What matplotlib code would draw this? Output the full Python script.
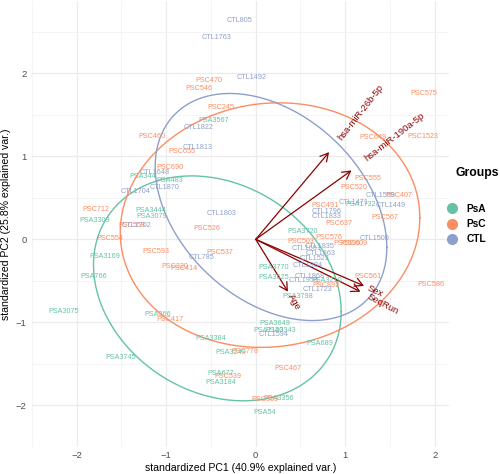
import numpy as np
import matplotlib.pyplot as plt
from matplotlib.lines import Line2D
from matplotlib.textpath import TextPath
from matplotlib.font_manager import FontProperties

plt.rcParams['font.family'] = ['Liberation Sans', 'DejaVu Sans']

#%% Datos: puntuaciones estandarizadas de PC1 y PC2 por grupo
grupos = ['PsA', 'PsC', 'CTL']
colores = ['#66C2A5', '#FC8D62', '#8DA0CB']

psa_nombres = ['PSA3567', 'PSA344', 'PSA483', 'PSA3444', 'PSA3079', 'PSA3303', 'PSA3169',
               'PSA766', 'PSA3075', 'PSA366', 'PSA3384', 'PSA3745', 'PSA3249', 'PSA677',
               'PSA3184', 'PSA3356', 'PSA54', 'PSA3649', 'PSA1120', 'PSA3343', 'PSA689',
               'PSA3798', 'PSA3770', 'PSA3625', 'PSA3720', 'PSA3210', 'PSA1732']
psa_pc1 = [-0.465, -1.265, -0.962, -1.168, -1.168, -1.795, -1.686, -1.805, -2.151, -1.092,
           -0.497, -1.514, -0.281, -0.389, -0.389, 0.259, 0.097, 0.216, 0.141, 0.281, 0.714,
           0.465, 0.195, 0.205, 0.519, 0.789, 1.168]
psa_pc2 = [1.43, 0.756, 0.709, 0.349, 0.279, 0.233, -0.209, -0.453, -0.872, -0.907,
           -1.198, -1.419, -1.36, -1.616, -1.721, -1.919, -2.081, -1.012, -1.093, -1.093,
           -1.256, -0.686, -0.337, -0.465, 0.093, -0.5, 0.419]

psc_nombres = ['PSC470', 'PSC546', 'PSC245', 'PSC460', 'PSC655', 'PSC690', 'PSC712',
               'PSC558', 'PSC526', 'PSC554', 'PSC593', 'PSC537', 'PSC320', 'PSC414',
               'PSC417', 'PSC778', 'PSC539', 'PSC467', 'PSC359', 'PSC892', 'PSC561',
               'PSC586', 'PSC575', 'PSC1523', 'PSC649', 'PSC555', 'PSC520', 'PSC407',
               'PSC567', 'PSC491', 'PSC637', 'PSC576', 'PSC596', 'PSC609', 'PSC503']
psc_pc1 = [-0.519, -0.638, -0.389, -1.157, -0.822, -0.962, -1.784, -1.384, -0.551, -1.632,
           -1.114, -0.4, -0.908, -0.8, -0.962, -0.119, -0.314, 0.357, 0.097, 0.789, 1.254,
           1.957, 1.881, 1.87, 1.308, 1.254, 1.092, 1.6, 1.438, 0.778, 0.93, 0.822, 1.016,
           1.103, 0.508]
psc_pc2 = [1.907, 1.814, 1.593, 1.244, 1.058, 0.86, 0.36, 0.163, 0.128, 0.012, -0.151,
           -0.163, -0.326, -0.349, -0.965, -1.349, -1.651, -1.558, -1.93, -0.558, -0.453,
           -0.547, 1.756, 1.244, 1.221, 0.733, 0.628, 0.523, 0.267, 0.407, 0.186, 0.023,
           -0.047, -0.047, -0.023]

ctl_nombres = ['CTL805', 'CTL1763', 'CTL1492', 'CTL1822', 'CTL1813', 'CTL1648', 'CTL1870',
               'CTL1704', 'CTL1702', 'CTL1803', 'CTL785', 'CTL1594', 'CTL1835', 'CTL1661',
               'CTL1663', 'CTL1523', 'CTL1984', 'CTL1868', 'CTL1958', 'CTL1723', 'CTL1500',
               'CTL1559', 'CTL1449', 'CTL1471', 'CTL1796', 'CTL1833']
ctl_pc1 = [-0.184, -0.432, -0.043, -0.638, -0.649, -1.124, -1.016, -1.341, -1.33, -0.378,
           -0.605, 0.205, 0.714, 0.573, 0.724, 0.659, 0.584, 0.605, 0.53, 0.692, 1.33,
           1.395, 1.503, 1.092, 0.789, 0.789]
ctl_pc2 = [2.64, 2.43, 1.953, 1.349, 1.105, 0.802, 0.628, 0.581, 0.163, 0.314, -0.221,
           -1.151, -0.081, -0.116, -0.174, -0.233, -0.314, -0.442, -0.5, -0.605, 0.012,
           0.523, 0.407, 0.442, 0.337, 0.279]

# Cargas de las variables (flechas)
variables = ['hsa-miR-26b-5p', 'hsa-miR-190a-5p', 'Sex', 'SeqRun', 'Age']
var_pc1 = [0.82, 1.07, 1.21, 1.17, 0.36]
var_pc2 = [1.05, 0.83, -0.56, -0.63, -0.63]

#%% Grafico tipo biplot
datos = [(psa_nombres, psa_pc1, psa_pc2),
         (psc_nombres, psc_pc1, psc_pc2),
         (ctl_nombres, ctl_pc1, ctl_pc2)]

fig = plt.figure(figsize=(5, 4.74), dpi=100)
ax = fig.add_axes([32/500, 27/474, 417/500, 446/474])

ax.set_xlim(-2.36, 2.16)
ax.set_ylim(-2.31, 2.87)
ax.set_xticks([-2, -1, 0, 1, 2])
ax.set_yticks([-2, -1, 0, 1, 2])
ax.set_xticks(np.arange(-2.5, 2.5, 1.0), minor=True)
ax.set_yticks(np.arange(-2.5, 3.0, 1.0), minor=True)
ax.grid(which='major', color='#EBEBEB', linewidth=0.9)
ax.grid(which='minor', color='#F3F3F3', linewidth=0.6)
ax.set_axisbelow(True)
for s in ax.spines.values():
    s.set_visible(False)
ax.tick_params(which='both', length=0, labelsize=6.8, labelcolor='#4D4D4D')
ax.tick_params(axis='x', pad=3)
ax.tick_params(axis='y', pad=4)

# Flechas de las variables
for vx, vy in zip(var_pc1, var_pc2):
    ax.annotate('', xy=(vx, vy), xytext=(0, 0),
                arrowprops=dict(arrowstyle='->,head_length=0.4,head_width=0.22',
                                color='#8B0000', lw=0.9, shrinkA=0, shrinkB=0,
                                mutation_scale=14))

# Etiquetas de las observaciones
for (nombres, px, py), col in zip(datos, colores):
    for n, x, y in zip(nombres, px, py):
        ax.text(x, y, n, color=col, fontsize=5.2, ha='center', va='center')

# Elipses de datos normales (prob = 0.68), como en ggbiplot
ed = np.sqrt(-2 * np.log(1 - 0.68))
t = np.linspace(0, 2 * np.pi, 200)
circulo = np.column_stack([np.cos(t), np.sin(t)])
for (nombres, px, py), col in zip(datos, colores):
    pts = np.column_stack([px, py])
    mu = pts.mean(axis=0)
    sigma = np.cov(pts, rowvar=False)
    elipse = circulo @ np.linalg.cholesky(sigma).T * ed + mu
    ax.plot(elipse[:, 0], elipse[:, 1], color=col, lw=1.0)

# Nombres de las variables, rotados segun la flecha
fp = FontProperties(family='Liberation Sans', size=6.8)
for nombre, vx, vy in zip(variables, var_pc1, var_pc2):
    ang = np.degrees(np.arctan(vy / vx))
    w = TextPath((0, 0), nombre, prop=fp).get_extents().width
    off = 0.25 * w
    ax.annotate(nombre, xy=(vx, vy), xytext=(off * np.cos(np.radians(ang)), off * np.sin(np.radians(ang))),
                textcoords='offset points', rotation=ang, rotation_mode='anchor',
                ha='left', va='center', color='#8B0000', fontproperties=fp)

ax.set_xlabel('standardized PC1 (40.9% explained var.)', fontsize=7.6, labelpad=2)
ax.set_ylabel('standardized PC2 (25.8% explained var.)', fontsize=7.6, labelpad=3)

# Leyenda
fig.text(456/500, 1 - 173/474, 'Groups', fontsize=8.8, fontweight='bold',
         ha='left', va='center')
handles = [Line2D([], [], marker='o', linestyle='', color=c, markersize=7) for c in colores]
leg = fig.legend(handles, grupos, loc='upper left',
                 bbox_to_anchor=(446/500, 1 - 204/474), frameon=False,
                 prop={'weight': 'bold', 'size': 7.3},
                 handletextpad=0.8, labelspacing=0.5, handlelength=1.2,
                 borderaxespad=0, borderpad=0)

plt.savefig('out.png', dpi=100)
